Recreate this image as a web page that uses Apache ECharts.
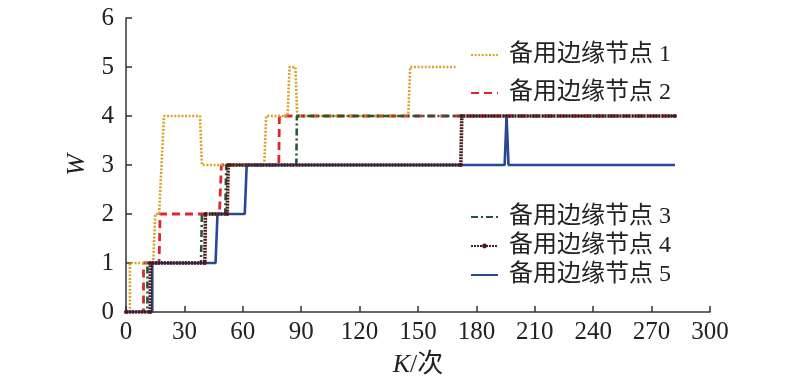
<!DOCTYPE html>
<html>
<head>
<meta charset="utf-8">
<script src="https://cdn.jsdelivr.net/npm/echarts@6/dist/echarts.min.js"></script>
<style>html,body{margin:0;padding:0;background:#fff;}#c{width:800px;height:389px;}</style>
</head>
<body>
<div id="c"></div>
<script>
// Tick labels
const xTicks = [0, 30, 60, 90, 120, 150, 180, 210, 240, 270, 300];
const yTicks = [0, 1, 2, 3, 4, 5, 6];
// Series names
const names = ['备用边缘节点 1', '备用边缘节点 2', '备用边缘节点 3', '备用边缘节点 4', '备用边缘节点 5'];
// Step change points (K, W)
const node1K = [0, 2, 2, 14, 15, 17, 19.5, 38, 39, 71, 72, 83, 84, 87, 88, 145, 146, 170];
const node1W = [0, 0, 1, 1, 2, 2, 4, 4, 3, 3, 4, 4, 5, 5, 4, 4, 5, 5];
const node2K = [0, 9, 9, 17, 17.5, 48, 49, 78.5, 78.8, 282];
const node2W = [0, 0, 1, 1, 2, 2, 3, 3, 4, 4];
const node3K = [0, 11, 11, 38.5, 39, 51, 51.5, 87.5, 87.8, 282];
const node3W = [0, 0, 1, 1, 2, 2, 3, 3, 4, 4];
const node4K = [0, 12.5, 12.5, 40.5, 40.8, 52, 52.5, 172, 172.5, 282];
const node4W = [0, 0, 1, 1, 2, 2, 3, 3, 4, 4];
const node5K = [0, 13.5, 13.5, 46, 47, 61, 62, 194.5, 195.5, 196.5, 282];
const node5W = [0, 0, 1, 1, 2, 2, 3, 3, 4, 3, 3];

function pairs(k, w) { return k.map((v, i) => [v, w[i]]); }

const FONT = '"Liberation Serif", "Noto Sans CJK SC", serif';
const legendText = {fontSize: 24, color: '#222', fontFamily: FONT, padding: [0, 0, 0, 6]};
const noSym = {opacity: 0};
const chart = echarts.init(document.getElementById('c'), null, {renderer: 'canvas'});
chart.setOption({
  animation: false,
  backgroundColor: '#fff',
  grid: {left: 126, right: 90, top: 18, bottom: 77},
  legend: [
    {
      data: [{name: names[0], itemStyle: noSym}, {name: names[1], itemStyle: noSym}],
      orient: 'vertical', left: 465, top: 38,
      itemWidth: 27, itemHeight: 14, itemGap: 14,
      textStyle: legendText
    },
    {
      data: [{name: names[2], itemStyle: noSym}, {name: names[3]}, {name: names[4], itemStyle: noSym}],
      orient: 'vertical', left: 465, top: 200,
      itemWidth: 27, itemHeight: 6, itemGap: 5,
      textStyle: legendText
    }
  ],
  xAxis: {
    type: 'value', min: 0, max: 300, interval: 30,
    name: '{i|K}/次', nameLocation: 'middle', nameGap: 40,
    nameTextStyle: {fontSize: 26, color: '#222', fontFamily: FONT,
      rich: {i: {fontStyle: 'italic', fontSize: 26, color: '#222', fontFamily: FONT}}},
    axisLine: {show: true, lineStyle: {color: '#333', width: 1.5}},
    axisTick: {show: true, inside: true, length: 6, lineStyle: {color: '#333', width: 1.5}},
    splitLine: {show: false},
    axisLabel: {margin: 8, fontSize: 25, color: '#222', fontFamily: FONT,
      formatter: v => xTicks.includes(v) ? String(v) : ''}
  },
  yAxis: {
    type: 'value', min: 0, max: 6, interval: 1,
    name: 'W', nameLocation: 'middle', nameGap: 36, nameRotate: 90,
    nameTextStyle: {fontSize: 26, fontStyle: 'italic', color: '#222', fontFamily: FONT},
    axisLine: {show: true, lineStyle: {color: '#333', width: 1.5}},
    axisTick: {show: true, inside: true, length: 6, lineStyle: {color: '#333', width: 1.5}},
    splitLine: {show: false},
    axisLabel: {margin: 12, fontSize: 25, color: '#222', fontFamily: FONT,
      formatter: v => yTicks.includes(v) ? String(v) : ''}
  },
  series: [
    {name: names[1], type: 'line', data: pairs(node2K, node2W), symbol: 'none', z: 2,
      itemStyle: {color: '#e0262b'},
      lineStyle: {color: '#e0262b', width: 2.8, type: [8, 5]}},
    {name: names[0], type: 'line', data: pairs(node1K, node1W), symbol: 'none', z: 3,
      itemStyle: {color: '#dca227'},
      lineStyle: {color: '#dca227', width: 2.6, type: [2, 1.6]}},
    {name: names[2], type: 'line', data: pairs(node3K, node3W), symbol: 'none', z: 4,
      itemStyle: {color: '#1e5a33'},
      lineStyle: {color: '#1e5a33', width: 2.6, type: [7, 3, 2, 3]}},
    {name: names[4], type: 'line', data: pairs(node5K, node5W), symbol: 'none', z: 5,
      itemStyle: {color: '#2a4796'},
      lineStyle: {color: '#2a4796', width: 2.6}},
    {name: names[3], type: 'line', data: pairs(node4K, node4W), z: 6,
      symbol: 'circle', symbolSize: 4,
      itemStyle: {color: '#4a1a1f'},
      lineStyle: {color: '#4a1a1f', width: 3.6, type: [2, 1]}}
  ]
});
</script>
</body>
</html>
